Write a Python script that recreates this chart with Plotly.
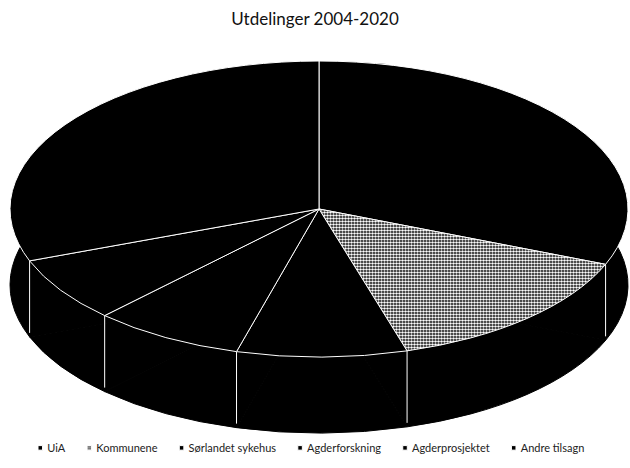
import plotly.graph_objects as go

# ---- data (shares, %) ----
labels = ["UiA", "Kommunene", "Sørlandet sykehus", "Agderforskning",
          "Agderprosjektet", "Andre tilsagn"]
values = [31.1, 14.3, 8.9, 7.9, 7.1, 30.7]
title_text = "Utdelinger 2004-2020"

# ---- styles ----
slice_colors = ["#000000"] * len(labels)
pattern_shapes = ["", ".", "", "", "", ""]
FONT = "Lato"

fig = go.Figure()

# side (depth) of the 3D pie
fig.add_trace(go.Pie(
    labels=labels, values=values, sort=False, direction="clockwise",
    rotation=0, textinfo="none", hoverinfo="skip", showlegend=False,
    marker=dict(colors=slice_colors, line=dict(color="#000000", width=1)),
    domain=dict(x=[0, 1], y=[0, 1]),
))

# top face
fig.add_trace(go.Pie(
    labels=labels, values=values, sort=False, direction="clockwise",
    rotation=0, textinfo="none",
    marker=dict(colors=slice_colors, line=dict(color="#ffffff", width=1),
                pattern=dict(shape=pattern_shapes, fgcolor="#ffffff",
                             bgcolor="#000000", size=3, solidity=0.55)),
    domain=dict(x=[0, 1], y=[0, 1]),
))

fig.update_layout(
    width=630, height=468,
    margin=dict(l=0, r=0, t=0, b=0, autoexpand=False),
    paper_bgcolor="white", plot_bgcolor="white",
    title=dict(text=title_text, x=0.5, xanchor="center", y=0.96,
               yref="container", yanchor="middle",
               font=dict(family=FONT, size=17, color="#111111")),
    legend=dict(orientation="h", x=0.05, xanchor="left", y=0.043,
                yanchor="middle", itemwidth=30,
                entrywidth=20, entrywidthmode="pixels",
                font=dict(family=FONT, size=11, color="#222222"),
                bgcolor="rgba(0,0,0,0)"),
    font=dict(family=FONT),
)

# squash the circular pies into the tilted (elliptical) look of the original,
# mark the slice borders on the visible side wall and tighten the legend
post_js = """
document.body.style.margin = '0';
var gd = document.getElementById('{plot_id}');
function squash(){
  var layer = gd.querySelector('.pielayer');
  var traces = layer.querySelectorAll('.trace');
  var CX = 319, CY = 209, RX = 309, RY = 148, DEPTH = 76;
  var targets = [[CX, CY + DEPTH], [CX, CY]];
  traces.forEach(function(g, i){
    g.removeAttribute('transform');
    var bb = g.getBBox();
    var cx = bb.x + bb.width/2, cy = bb.y + bb.height/2, r = bb.width/2;
    var sx = RX / r, sy = RY / r;
    var t = targets[Math.min(i, 1)];
    g.setAttribute('transform', 'translate(' + t[0] + ',' + t[1] + ') scale(' +
      sx + ',' + sy + ') translate(' + (-cx) + ',' + (-cy) + ')');
    g.querySelectorAll('path').forEach(function(p){
      p.style.vectorEffect = 'non-scaling-stroke';
      var f = p.style.fill || p.getAttribute('fill') || '';
      var m = f.match(/url\\(["']?#([^"')]+)["']?\\)/);
      if (m) {
        var pat = document.getElementById(m[1]);
        if (pat) pat.setAttribute('patternTransform',
          'scale(' + (1/sx) + ',' + (1/sy) + ')');
      }
    });
  });
  // side-wall border lines from the slice angles of the top trace
  var cd = gd.calcdata[1];
  var tot = 0; cd.forEach(function(pt){ tot += pt.v; });
  var ns = 'http://www.w3.org/2000/svg';
  var lg = document.createElementNS(ns, 'g');
  var acc = 0;
  cd.forEach(function(pt){
    acc += pt.v;
    var th = 2 * Math.PI * acc / tot;
    if (Math.cos(th) < -0.02) {
      var x = CX + RX * Math.sin(th), y = CY - RY * Math.cos(th);
      var ln = document.createElementNS(ns, 'line');
      ln.setAttribute('x1', x); ln.setAttribute('y1', y);
      ln.setAttribute('x2', x); ln.setAttribute('y2', y + DEPTH - 4);
      ln.setAttribute('stroke', '#ffffff'); ln.setAttribute('stroke-width', '1');
      lg.appendChild(ln);
    }
  });
  layer.insertBefore(lg, traces[1]);

  // legend: small squares close to their text, compact spacing
  gd.querySelectorAll('.legend [clip-path]').forEach(function(e){
    e.removeAttribute('clip-path');
  });
  gd.querySelectorAll('.legend .legendpoints path').forEach(function(p){
    p.setAttribute('transform', 'translate(33,0) scale(0.38)');
    p.style.vectorEffect = 'non-scaling-stroke';
  });
  var items = gd.querySelectorAll('.legend .traces');
  var xs = [], ys = [], px = 0;
  items.forEach(function(it){
    var tr = it.getAttribute('transform') || '';
    var mm = tr.match(/translate\\(([-\\d.e]+)[ ,]*([-\\d.e]*)\\)/);
    ys.push(mm && mm[2] ? parseFloat(mm[2]) : 0);
    xs.push(px);
    var txt = it.querySelector('text.legendtext');
    var w = txt ? txt.getComputedTextLength() : 40;
    px += w + 31;
  });
  items.forEach(function(it, i){
    it.setAttribute('transform', 'translate(' + xs[i] + ',' + ys[i] + ')');
  });
  var first = items[0].querySelector('.legendpoints path');
  var L = first.getBoundingClientRect().left;
  var svgL = gd.querySelector('.main-svg').getBoundingClientRect().left;
  var delta = 38 - (L - svgL);
  items.forEach(function(it, i){
    it.setAttribute('transform', 'translate(' + (xs[i] + delta) + ',' + ys[i] + ')');
  });
}
squash();
"""

fig.write_html("out.html", post_script=post_js,
               config={"displayModeBar": False})
